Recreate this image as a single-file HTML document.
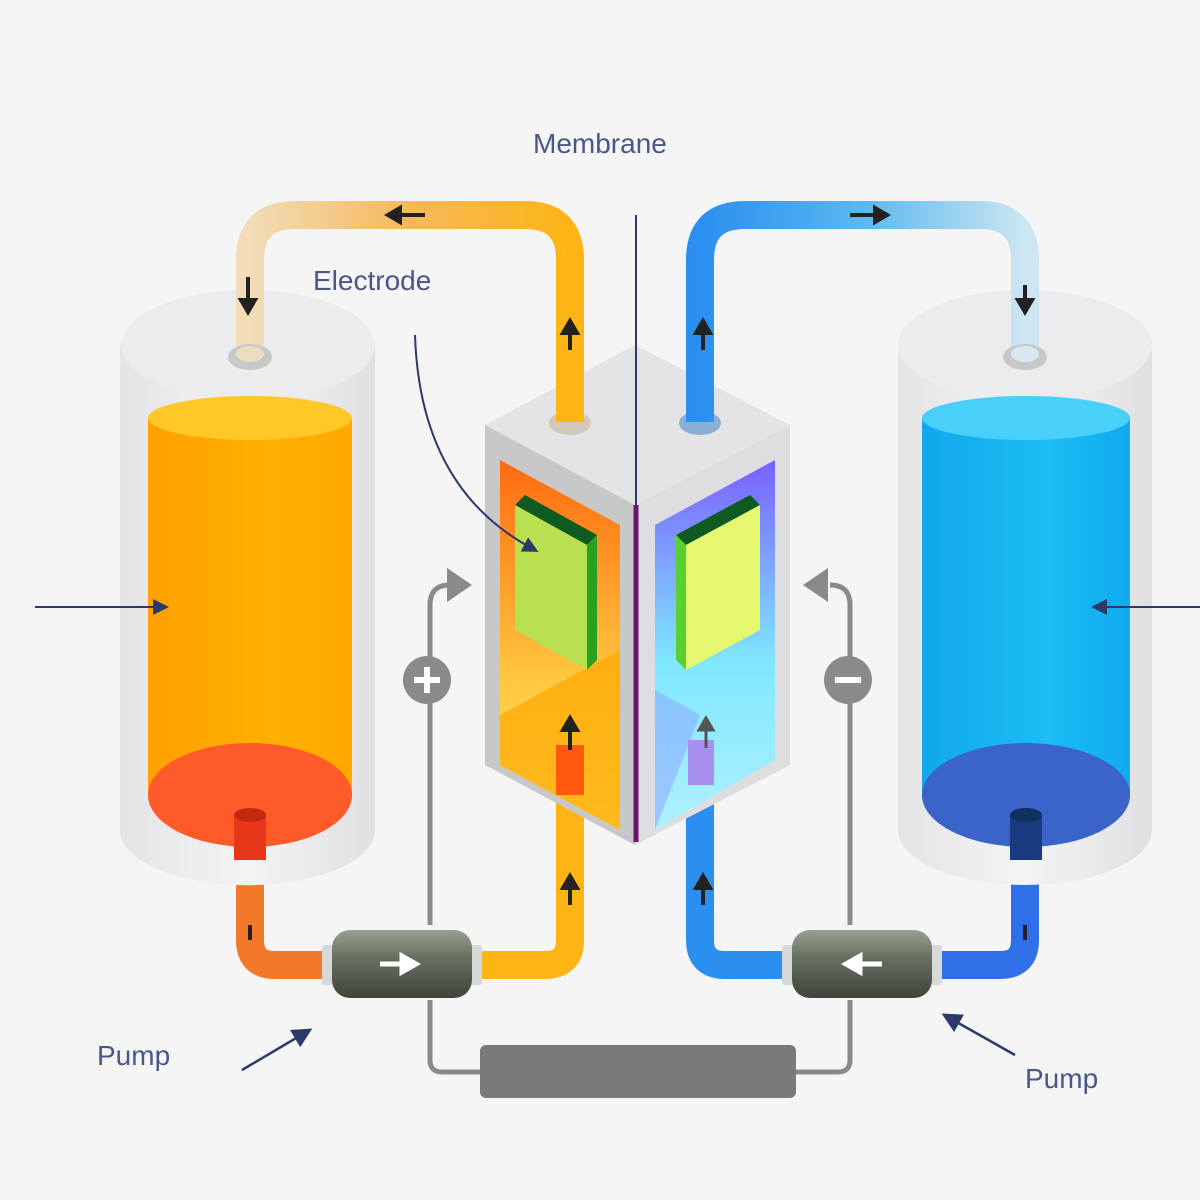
<!DOCTYPE html>
<html><head><meta charset="utf-8"><style>
html,body{margin:0;padding:0;background:#f5f5f6;}
svg{display:block}
text{font-family:"Liberation Sans",sans-serif;fill:#4a5786;}
</style></head><body>
<svg width="1200" height="1200" viewBox="0 0 1200 1200" xmlns="http://www.w3.org/2000/svg">
<defs>
<linearGradient id="topL" x1="0" x2="1" y1="0" y2="0"><stop offset="0" stop-color="#f2ddb8"/><stop offset="0.5" stop-color="#f6b85a"/><stop offset="1" stop-color="#fdb515"/></linearGradient>
<linearGradient id="topR" x1="0" x2="1" y1="0" y2="0"><stop offset="0" stop-color="#2b8ff0"/><stop offset="0.5" stop-color="#5ab8f0"/><stop offset="1" stop-color="#cde6f2"/></linearGradient>
<linearGradient id="orLiq" x1="0" x2="1"><stop offset="0" stop-color="#ffa000"/><stop offset="0.6" stop-color="#ffb000"/><stop offset="1" stop-color="#ffa800"/></linearGradient>
<linearGradient id="blLiq" x1="0" x2="1"><stop offset="0" stop-color="#12a8ea"/><stop offset="0.6" stop-color="#1cbcf5"/><stop offset="1" stop-color="#10aaee"/></linearGradient>
<linearGradient id="tank" x1="0" x2="1"><stop offset="0" stop-color="#e4e4e6"/><stop offset="0.5" stop-color="#f4f4f5"/><stop offset="1" stop-color="#e0e0e2"/></linearGradient>
<linearGradient id="cellL" x1="0" y1="0" x2="0" y2="1"><stop offset="0" stop-color="#ff6a10"/><stop offset="0.6" stop-color="#ffc840"/><stop offset="1" stop-color="#ffe860"/></linearGradient>
<linearGradient id="cellR" x1="0" y1="0" x2="0" y2="1"><stop offset="0" stop-color="#7a60ff"/><stop offset="0.55" stop-color="#80e8ff"/><stop offset="1" stop-color="#b0f0ff"/></linearGradient>
<linearGradient id="pump" x1="0" y1="0" x2="0" y2="1"><stop offset="0" stop-color="#9aa090"/><stop offset="0.4" stop-color="#6a7060"/><stop offset="1" stop-color="#3e443a"/></linearGradient>
<marker id="ah" markerWidth="8" markerHeight="8" refX="6" refY="4" orient="auto"><path d="M0,0 L8,4 L0,8 z" fill="#2c3a6a"/></marker>
</defs>
<rect width="1200" height="1200" fill="#f5f5f6"/>

<!-- bottom pipes -->
<path d="M250,880 V940 Q250,965 275,965 H330" fill="none" stroke="#f2782a" stroke-width="28"/>
<path d="M480,965 H545 Q570,965 570,940 V800" fill="none" stroke="#fdb515" stroke-width="28"/>
<path d="M700,800 V940 Q700,965 725,965 H790" fill="none" stroke="#2b8ff0" stroke-width="28"/>
<path d="M940,965 H1000 Q1025,965 1025,940 V880" fill="none" stroke="#2f6fe8" stroke-width="28"/>

<!-- left tank -->
<path d="M120,345 V830 A127,55 0 0 0 375,830 V345 Z" fill="url(#tank)"/>
<ellipse cx="248" cy="345" rx="127" ry="55" fill="#ececee"/>
<path d="M148,418 V795 A102,50 0 0 0 352,795 V418 Z" fill="url(#orLiq)"/>
<ellipse cx="250" cy="795" rx="102" ry="52" fill="#ff5a2a"/>
<ellipse cx="250" cy="418" rx="102" ry="22" fill="#ffc828"/>
<rect x="234" y="815" width="32" height="45" fill="#e8361a"/>
<ellipse cx="250" cy="815" rx="16" ry="7" fill="#c22a10"/>

<!-- right tank -->
<path d="M898,345 V830 A127,55 0 0 0 1152,830 V345 Z" fill="url(#tank)"/>
<ellipse cx="1025" cy="345" rx="127" ry="55" fill="#ececee"/>
<path d="M922,418 V795 A104,50 0 0 0 1130,795 V418 Z" fill="url(#blLiq)"/>
<ellipse cx="1026" cy="795" rx="104" ry="52" fill="#3a64c8"/>
<ellipse cx="1026" cy="418" rx="104" ry="22" fill="#48d0f8"/>
<rect x="1010" y="815" width="32" height="45" fill="#1a3a80"/>
<ellipse cx="1026" cy="815" rx="16" ry="7" fill="#103060"/>

<!-- cell -->
<polygon points="485,425 635,345 790,425 635,505" fill="#e4e4e6"/>
<polygon points="485,425 635,505 635,845 485,765" fill="#c8c8c8"/>
<polygon points="635,505 790,425 790,765 635,845" fill="#dedee0"/>
<polygon points="500,460 620,525 620,830 500,765" fill="url(#cellL)"/>
<polygon points="500,715 620,650 620,830 500,765" fill="#ffa600" opacity="0.7"/>
<polygon points="655,525 775,460 775,760 655,830" fill="url(#cellR)"/>
<polygon points="655,690 700,715 655,830" fill="#8aa0ff" opacity="0.5"/>
<polygon points="515,505 525,495 597,535 587,545" fill="#0e5a20"/>
<polygon points="515,505 587,545 587,670 515,630" fill="#b8e050"/>
<polygon points="587,545 597,535 597,660 587,670" fill="#2aa020"/>
<polygon points="676,535 750,495 760,505 686,545" fill="#0e5a20"/>
<polygon points="686,545 760,505 760,630 686,670" fill="#e6f870"/>
<polygon points="676,535 686,545 686,670 676,660" fill="#58d030"/>
<ellipse cx="570" cy="423" rx="21" ry="12" fill="#d0c8b8"/>
<ellipse cx="700" cy="423" rx="21" ry="12" fill="#8ab0d8"/>
<rect x="556" y="745" width="28" height="50" fill="#ff5a10"/>
<rect x="688" y="740" width="26" height="45" fill="#a890f0"/>

<!-- top pipes (over tanks/cell) -->
<path d="M250,355 V260 Q250,215 295,215 H525 Q570,215 570,260 V422" fill="none" stroke="url(#topL)" stroke-width="28"/>
<path d="M700,422 V260 Q700,215 745,215 H980 Q1025,215 1025,260 V355" fill="none" stroke="url(#topR)" stroke-width="28"/>
<ellipse cx="250" cy="357" rx="22" ry="13" fill="#c8c8ca"/>
<ellipse cx="250" cy="354" rx="14" ry="8" fill="#ecdcc0"/>
<ellipse cx="1025" cy="357" rx="22" ry="13" fill="#c8c8ca"/>
<ellipse cx="1025" cy="354" rx="14" ry="8" fill="#d8e8f0"/>

<!-- membrane -->
<line x1="636" y1="215" x2="636" y2="505" stroke="#2c3a6a" stroke-width="2"/>
<line x1="636" y1="505" x2="636" y2="842" stroke="#6a1470" stroke-width="5"/>

<!-- flow arrows -->
<g stroke="#222" stroke-width="4" fill="#222">
<line x1="248" y1="277" x2="248" y2="303"/><path d="M241,300 L248,312 L255,300z"/>
<line x1="425" y1="215" x2="398" y2="215"/><path d="M400,208 L388,215 L400,222z"/>
<line x1="570" y1="350" x2="570" y2="330"/><path d="M563,333 L570,321 L577,333z"/>
<line x1="703" y1="350" x2="703" y2="330"/><path d="M696,333 L703,321 L710,333z"/>
<line x1="850" y1="215" x2="877" y2="215"/><path d="M875,208 L887,215 L875,222z"/>
<line x1="1025" y1="285" x2="1025" y2="303"/><path d="M1018,300 L1025,312 L1032,300z"/>
<line x1="570" y1="905" x2="570" y2="885"/><path d="M563,888 L570,876 L577,888z"/>
<line x1="703" y1="905" x2="703" y2="885"/><path d="M696,888 L703,876 L710,888z"/>
<line x1="570" y1="750" x2="570" y2="728"/><path d="M563,730 L570,718 L577,730z"/>
<line x1="250" y1="925" x2="250" y2="940"/>
<line x1="1025" y1="925" x2="1025" y2="940"/>
</g>
<g stroke="#555" stroke-width="3" fill="#555"><line x1="706" y1="748" x2="706" y2="728"/><path d="M699,730 L706,718 L713,730z"/></g>

<!-- wires -->
<path d="M430,925 V605 Q430,585 450,585" fill="none" stroke="#8a8a8a" stroke-width="5"/>
<path d="M447,568 L472,585 L447,602z" fill="#8a8a8a"/>
<path d="M850,925 V605 Q850,585 830,585" fill="none" stroke="#8a8a8a" stroke-width="5"/>
<path d="M828,568 L803,585 L828,602z" fill="#8a8a8a"/>
<path d="M430,1000 V1060 Q430,1072 442,1072 H838 Q850,1072 850,1060 V1000" fill="none" stroke="#8a8a8a" stroke-width="5"/>
<rect x="480" y="1045" width="316" height="53" rx="6" fill="#7a7a7a"/>
<circle cx="427" cy="680" r="24" fill="#8a8a8a"/>
<path d="M414,680 H440 M427,667 V693" stroke="#fff" stroke-width="6"/>
<circle cx="848" cy="680" r="24" fill="#8a8a8a"/>
<path d="M835,680 H861" stroke="#fff" stroke-width="6"/>

<!-- pumps -->
<rect x="322" y="945" width="12" height="40" rx="3" fill="#d8d8d8"/>
<rect x="470" y="945" width="12" height="40" rx="3" fill="#d8d8d8"/>
<rect x="332" y="930" width="140" height="68" rx="18" fill="url(#pump)"/>
<rect x="782" y="945" width="12" height="40" rx="3" fill="#d8d8d8"/>
<rect x="930" y="945" width="12" height="40" rx="3" fill="#d8d8d8"/>
<rect x="792" y="930" width="140" height="68" rx="18" fill="url(#pump)"/>
<g stroke="#fff" stroke-width="5" fill="#fff">
<line x1="380" y1="964" x2="405" y2="964"/><path d="M402,956 L416,964 L402,972z"/>
<line x1="882" y1="964" x2="857" y2="964"/><path d="M860,956 L846,964 L860,972z"/>
</g>

<!-- labels -->
<text x="533" y="153" font-size="28">Membrane</text>
<text x="313" y="290" font-size="28">Electrode</text>
<text x="97" y="1065" font-size="28">Pump</text>
<text x="1025" y="1088" font-size="28">Pump</text>
<path d="M415,335 Q420,490 535,550" fill="none" stroke="#2c3a6a" stroke-width="2" marker-end="url(#ah)"/>
<line x1="242" y1="1070" x2="308" y2="1031" stroke="#2c3a6a" stroke-width="2.5" marker-end="url(#ah)"/>
<line x1="1015" y1="1055" x2="946" y2="1016" stroke="#2c3a6a" stroke-width="2.5" marker-end="url(#ah)"/>
<line x1="35" y1="607" x2="165" y2="607" stroke="#2c3a6a" stroke-width="2" marker-end="url(#ah)"/>
<line x1="1200" y1="607" x2="1095" y2="607" stroke="#2c3a6a" stroke-width="2" marker-end="url(#ah)"/>
</svg>
</body></html>
